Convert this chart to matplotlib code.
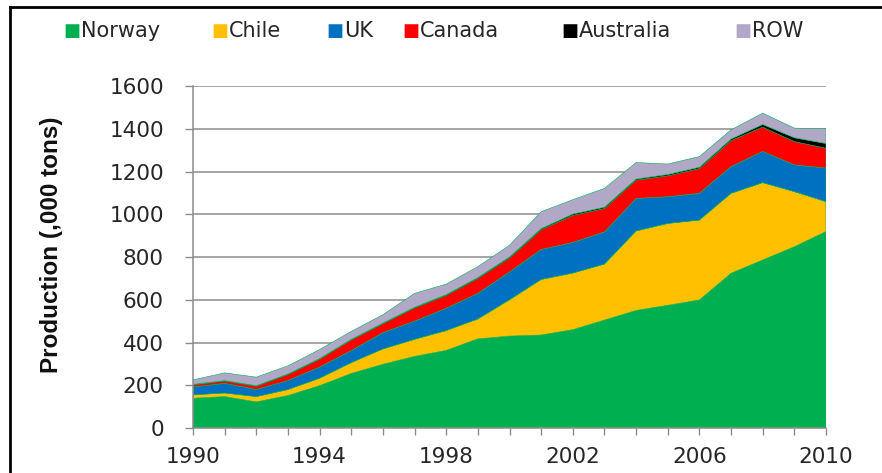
import matplotlib
matplotlib.use('Agg')
import matplotlib.pyplot as plt
from matplotlib import font_manager
from matplotlib.lines import Line2D
from matplotlib.ticker import MultipleLocator

# salmon production by country, thousand tons
years = list(range(1990, 2011))
norway = [139, 147, 122, 152, 198, 255, 298, 335, 363, 417, 430,
          435, 460, 505, 550, 574, 599, 724, 786, 848, 919]
chile = [16, 17, 25, 28, 35, 51, 72, 80, 93, 93, 170,
         260, 265, 262, 372, 383, 374, 374, 362, 258, 140]
uk = [37, 45, 33, 42, 52, 56, 76, 85, 104, 120, 130,
      140, 143, 150, 152, 125, 125, 125, 146, 125, 157]
canada = [10, 11, 16, 28, 37, 50, 42, 62, 60, 70, 65,
          93, 127, 110, 86, 98, 116, 122, 114, 109, 93]
australia = [2, 2, 2, 3, 3, 3, 3, 3, 4, 4, 5,
             5, 6, 6, 5, 6, 6, 7, 12, 18, 22]
row = [21, 36, 40, 38, 42, 37, 39, 65, 49, 51, 55,
       79, 67, 88, 77, 49, 50, 43, 53, 45, 69]

names = ['Norway', 'Chile', 'UK', 'Canada', 'Australia', 'ROW']
colors = ['#00B050', '#FFC000', '#0070C0', '#FF0000', '#000000', '#B1A8C8']
yticks = list(range(0, 1601, 200))
xticks = [1990, 1994, 1998, 2002, 2006, 2010]

# narrow bold face for the axis title if there is one
installed = {f.name for f in font_manager.fontManager.ttflist}
if 'Liberation Sans Narrow' in installed:
    label_font, label_size = 'Liberation Sans Narrow', 20
else:
    label_font, label_size = 'Liberation Sans', 17.5

W, H = 882, 473
fig = plt.figure(figsize=(W / 100, H / 100), dpi=100)
ax = fig.add_axes([193 / W, 1 - 428 / H, (826 - 193) / W, (428 - 86) / H])

ax.stackplot(years, norway, chile, uk, canada, australia, row,
             colors=colors, linewidth=0.4, edgecolors=colors)

ax.set_xlim(1990, 2010)
ax.set_ylim(0, 1600)
ax.set_yticks(yticks)
ax.set_yticklabels([str(v) for v in yticks])
ax.set_xticks(xticks)
ax.set_xticklabels([str(v) for v in xticks])
ax.xaxis.set_minor_locator(MultipleLocator(1))

ax.set_axisbelow(True)
ax.yaxis.grid(True, color='#8c8c8c', linewidth=1.1)
for side in ['top', 'right']:
    ax.spines[side].set_visible(False)
for side in ['left', 'bottom']:
    ax.spines[side].set_color('#8c8c8c')
    ax.spines[side].set_linewidth(1.1)

ax.tick_params(axis='y', direction='out', length=6, width=1, color='#8c8c8c',
               pad=15, labelsize=15.5, labelcolor='#262626')
ax.tick_params(axis='x', which='both', direction='out', length=5, width=1,
               color='#8c8c8c', pad=9, labelsize=15.5, labelcolor='#262626')

fig.text(52 / W, 1 - 245 / H, 'Production (,000 tons)', rotation=90,
         ha='center', va='center', fontsize=label_size, fontweight='bold',
         family=[label_font, 'DejaVu Sans'], color='#111111')

# legend row along the top
txt_x = [81, 229, 344, 420, 579, 752]
ly = 1 - 31 / H
for name, c, tx in zip(names, colors, txt_x):
    fig.text((tx - 1) / W, ly, '\u25a0', color=c, fontsize=13, ha='right', va='center')
    fig.text(tx / W, ly, name, color='#262626', fontsize=15, ha='left', va='center')

# outer frame (top and left edges visible)
fig.add_artist(Line2D([10 / W, 1], [1 - 7 / H, 1 - 7 / H], color='black',
                      linewidth=2, transform=fig.transFigure))
fig.add_artist(Line2D([10 / W, 10 / W], [0, 1 - 7 / H], color='black',
                      linewidth=2, transform=fig.transFigure))

fig.savefig('out.png', dpi=100, facecolor='white')
